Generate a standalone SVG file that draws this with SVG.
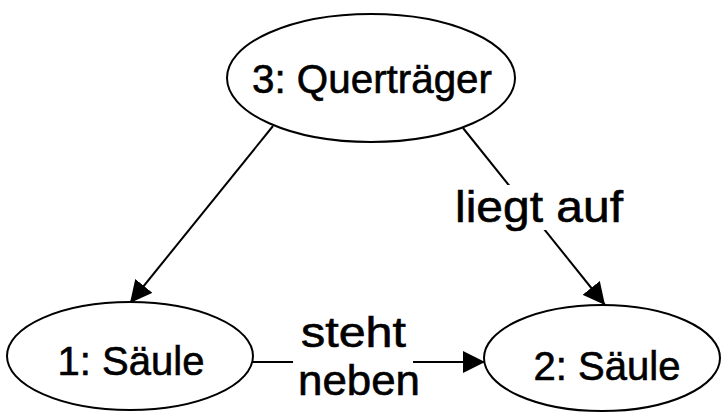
<svg xmlns="http://www.w3.org/2000/svg" width="723" height="412" viewBox="0 0 723 412">
<style>
.node ellipse{fill:#fff;stroke:#000;stroke-width:2}
.node text{font-family:"Liberation Sans",Arial,sans-serif;font-size:40px;fill:#000;stroke:#000;stroke-width:0.6;text-anchor:middle}
.edge{fill:none;stroke:#000;stroke-width:2}
.lbl{font-family:"Liberation Sans",Arial,sans-serif;font-size:45px;fill:#000;stroke:#000;stroke-width:0.6}
.lbl2{font-size:42px}
</style>
<defs>
<marker id="arr" markerUnits="userSpaceOnUse" markerWidth="22" markerHeight="22" refX="22" refY="11" orient="auto">
<path d="M0,0 L22,11 L0,22 Z" fill="#000"/>
</marker>
</defs>
<rect width="723" height="412" fill="#fff"/>
<g id="connectors">
<path class="edge" d="M273,126 L130,303" marker-end="url(#arr)"/>
<path class="edge" d="M463,128 L605,305" marker-end="url(#arr)"/>
<path class="edge" d="M253,362 H293 M413,362 H485" marker-end="url(#arr)"/>
<rect x="452" y="185" width="176" height="45" fill="#fff"/>
<text class="lbl" x="455" y="222" textLength="168" lengthAdjust="spacingAndGlyphs">liegt auf</text>
<text class="lbl lbl2" x="301" y="347" textLength="105" lengthAdjust="spacingAndGlyphs">steht</text>
<text class="lbl lbl2" x="298" y="395" textLength="122" lengthAdjust="spacingAndGlyphs">neben</text>
</g>
<g id="node3" class="node">
<ellipse cx="371" cy="78" rx="144" ry="64"/>
<text x="372" y="93" textLength="240" lengthAdjust="spacingAndGlyphs">3: Querträger</text>
</g>
<g id="node1" class="node">
<ellipse cx="130" cy="356" rx="123" ry="54"/>
<text x="131" y="375">1: Säule</text>
</g>
<g id="node2" class="node">
<ellipse cx="602" cy="358" rx="118" ry="53"/>
<text x="607" y="380">2: Säule</text>
</g>
</svg>
